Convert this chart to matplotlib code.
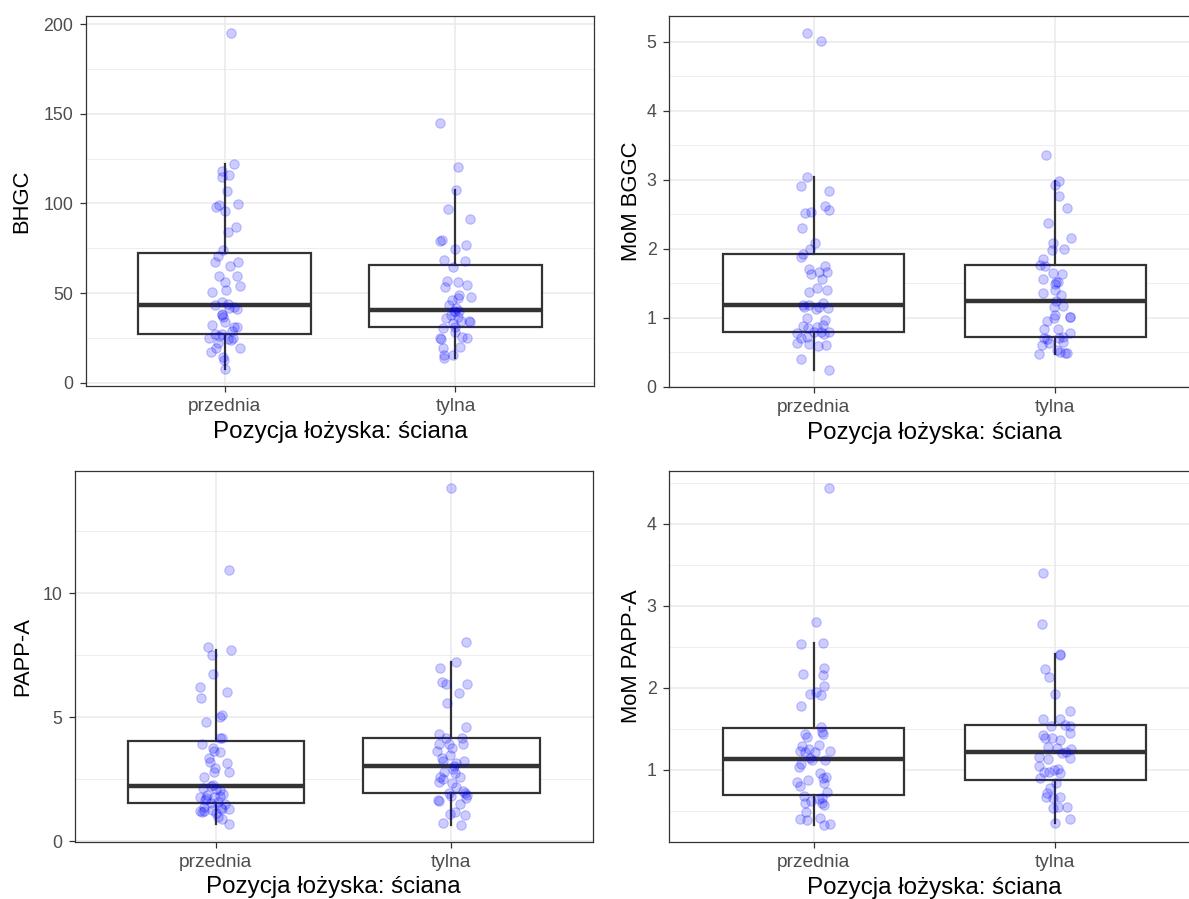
import matplotlib
matplotlib.use('Agg')
import matplotlib.pyplot as plt
import matplotlib.transforms as mtransforms
import numpy as np
from matplotlib.ticker import FixedLocator

plt.rcParams['font.family'] = ['Liberation Sans', 'DejaVu Sans']

categories = ['przednia', 'tylna']
x_title = 'Pozycja łożyska: ściana'

# ---------------- BHGC ----------------
bhgc_przednia = [195.2, 121.7, 118, 114.5, 115.8, 106.9, 97.8, 99, 95.9, 99.6, 87, 84.2,
                 74, 70.8, 67.3, 65.2, 67.3, 59.7, 56, 59.3, 53.9, 51.5, 50.7, 44.8, 43.3,
                 43.7, 42, 41.1, 37.7, 36.6, 34, 32.2, 31.2, 31.2, 28.8, 27, 26.2, 24.7,
                 24.3, 25.1, 19.5, 17.3, 19.1, 14.5, 12.6, 7.6, 22, 24, 27.3, 38.5, 41.5]
bhgc_przednia_jit = [0.026, 0.04, -0.01, -0.013, 0.019, 0.012, -0.039, -0.022, 0.0, 0.06, 0.05, 0.016,
                     -0.006, -0.029, -0.042, 0.023, 0.06, -0.022, 0.0, 0.055, 0.068, 0.007, -0.056, -0.013, -0.042,
                     0.016, 0.04, 0.052, -0.013, -0.007, 0.004, -0.056, 0.04, 0.055, 0.033, -0.042, -0.025, -0.067,
                     0.016, 0.036, -0.036, -0.057, 0.065, -0.007, -0.003, 0.001, -0.03, 0.03, -0.01, -0.01, 0.02]
bhgc_tylna = [145, 120.4, 107.4, 96.8, 91.1, 79, 79.6, 76.8, 74.3, 68.4, 67.8, 64.7, 56.9, 56.3,
              53.5, 54.5, 46.1, 48.9, 47.4, 48, 43.3, 41.4, 39.6, 35.9, 33.1, 31, 34.4, 34.4, 33.6,
              30.3, 25.1, 24.3, 28.4, 25.7, 25.1, 19.1, 20.1, 15.4, 13.6, 15.4, 36.5, 38, 40, 39.8]
bhgc_tylna_jit = [-0.067, 0.01, 0.003, -0.033, 0.065, -0.067, -0.06, 0.046, -0.004, -0.048, 0.042, -0.012,
                  -0.038, 0.01, -0.045, 0.05, -0.016, 0.014, 0.01, 0.068, -0.026, 0.003, 0.0, -0.04, -0.012,
                  -0.003, 0.025, 0.06, 0.065, -0.052, -0.067, -0.064, 0.0, 0.029, 0.05, -0.055, 0.02, -0.048,
                  -0.049, -0.012, 0.012, -0.02, 0.015, -0.008]

# ---------------- MoM BGGC ----------------
mom_bggc_przednia = [5.135, 5.01, 3.034, 2.91, 2.83, 2.62, 2.56, 2.52, 2.54, 2.30, 2.09, 2.00, 1.93,
                     1.88, 1.705, 1.63, 1.75, 1.66, 1.66, 1.555, 1.435, 1.38, 1.40, 1.19, 1.15, 1.16,
                     1.22, 1.145, 0.966, 0.884, 0.845, 0.87, 0.894, 0.773, 0.71, 0.725, 0.79, 0.797,
                     0.758, 0.797, 0.628, 0.613, 0.589, 0.604, 0.396, 0.235, 1.18, 1.12, 1.0]
mom_bggc_przednia_jit = [-0.03, 0.028, -0.028, -0.055, 0.064, 0.048, 0.062, -0.035, -0.011, -0.047, 0.004,
                         -0.017, -0.046, -0.055, -0.021, -0.011, 0.046, 0.021, 0.053, 0.035, 0.014, -0.021,
                         0.055, -0.044, -0.042, 0.021, 0.039, 0.058, 0.048, -0.044, -0.025, 0.014, 0.039,
                         -0.069, -0.055, -0.028, 0.0, 0.028, 0.042, 0.062, -0.069, -0.021, 0.017, 0.05,
                         -0.055, 0.062, -0.02, 0.01, -0.03]
mom_bggc_tylna = [3.36, 2.985, 2.93, 2.77, 2.594, 2.38, 2.16, 2.08, 1.98, 1.99, 1.845, 1.77, 1.754,
                  1.652, 1.638, 1.556, 1.52, 1.49, 1.52, 1.40, 1.353, 1.33, 1.24, 1.17, 1.15, 1.04,
                  1.01, 1.005, 0.95, 0.83, 0.83, 0.773, 0.725, 0.71, 0.686, 0.71, 0.604, 0.628, 0.643,
                  0.469, 0.531, 0.50, 0.483, 0.483, 1.0]
mom_bggc_tylna_jit = [-0.037, 0.014, 0.001, 0.017, 0.047, -0.03, 0.064, -0.01, -0.012, 0.035, -0.051,
                      -0.061, -0.044, -0.01, 0.029, -0.05, 0.004, 0.0, 0.011, 0.001, -0.052, 0.025, 0.004,
                      0.032, -0.003, 0.0, 0.06, 0.062, -0.033, -0.047, 0.011, 0.062, 0.032, -0.047, -0.033,
                      0.014, -0.055, -0.024, 0.032, -0.065, 0.007, 0.022, 0.039, 0.05, -0.005]

# ---------------- PAPP-A ----------------
pappa_przednia = [10.93, 7.84, 7.51, 7.70, 6.75, 6.24, 6.03, 5.78, 5.09, 5.0, 4.83, 4.18, 4.15, 3.92,
                  3.75, 3.64, 3.59, 3.35, 3.21, 2.97, 3.15, 2.81, 2.61, 2.81, 2.27, 2.14, 2.10, 2.07,
                  1.80, 1.87, 1.80, 1.84, 1.67, 1.22, 1.20, 1.22, 1.26, 1.13, 1.29, 1.29, 0.99, 0.89,
                  0.70, 2.25, 1.9, 1.75, 1.6, 1.55, 1.52, 1.4, 1.35]
pappa_przednia_jit = [0.056, -0.032, -0.017, 0.064, -0.013, -0.066, 0.049, -0.062, 0.028, 0.016, -0.044,
                      0.018, 0.024, -0.058, -0.014, -0.006, 0.016, -0.031, -0.027, -0.003, 0.049, 0.054,
                      -0.052, -0.006, -0.013, -0.055, 0.001, 0.018, -0.066, -0.038, -0.01, 0.016, -0.048,
                      -0.066, -0.059, -0.049, -0.017, 0.0, 0.025, 0.054, 0.007, 0.025, 0.054, -0.02, 0.03,
                      -0.04, 0.01, -0.02, 0.04, -0.05, 0.02]
pappa_tylna = [14.26, 8.02, 7.25, 7.0, 6.41, 6.33, 6.34, 5.99, 5.59, 4.62, 4.31, 4.16, 4.15, 3.91, 3.91,
               3.91, 3.78, 3.64, 3.35, 3.24, 3.24, 3.48, 3.15, 2.92, 2.74, 2.61, 2.58, 2.51, 2.41, 2.34,
               2.03, 1.96, 1.87, 1.83, 1.73, 1.67, 1.64, 1.49, 1.20, 1.06, 1.09, 0.75, 0.66, 3.05, 2.8,
               2.2, 1.95]
pappa_tylna_jit = [0.0, 0.064, 0.018, -0.047, -0.04, -0.021, 0.066, 0.031, -0.018, 0.064, -0.052, -0.024,
                   0.047, 0.049, -0.052, -0.01, 0.004, -0.061, -0.038, -0.035, 0.052, -0.007, 0.021, 0.007,
                   0.014, 0.035, -0.049, -0.035, -0.052, 0.004, 0.049, 0.056, 0.066, 0.0, 0.061, -0.056,
                   -0.054, 0.035, 0.014, 0.059, -0.004, -0.035, 0.042, 0.01, -0.03, 0.02, -0.01]

# ---------------- MoM PAPP-A ----------------
mom_pappa_przednia = [4.443, 2.80, 2.54, 2.545, 2.168, 2.237, 2.156, 2.02, 1.924, 1.952, 1.91, 1.78,
                      1.517, 1.464, 1.43, 1.44, 1.293, 1.228, 1.22, 1.25, 1.21, 1.228, 1.138, 1.118,
                      1.037, 1.065, 0.955, 0.915, 0.894, 0.874, 0.845, 0.805, 0.833, 0.723, 0.658, 0.589,
                      0.569, 0.597, 0.487, 0.398, 0.385, 0.406, 0.324, 0.337, 1.40, 1.30, 1.12, 0.68,
                      0.64, 0.62]
mom_pappa_przednia_jit = [0.062, 0.007, -0.055, 0.039, -0.046, 0.042, 0.039, 0.044, -0.017, 0.011, 0.028,
                          -0.055, 0.028, 0.035, 0.037, -0.036, -0.048, -0.058, -0.037, -0.021, 0.004, 0.066,
                          -0.017, -0.007, -0.062, -0.053, 0.024, 0.051, 0.039, -0.024, -0.069, -0.058, 0.042,
                          0.053, 0.035, 0.032, 0.042, -0.035, -0.033, -0.058, -0.028, 0.025, 0.044, 0.066,
                          -0.03, 0.02, 0.045, -0.04, 0.02, -0.01]
mom_pappa_tylna = [3.397, 2.78, 2.41, 2.40, 2.225, 2.136, 1.928, 1.72, 1.619, 1.615, 1.55, 1.537, 1.53,
                   1.444, 1.423, 1.383, 1.383, 1.362, 1.28, 1.269, 1.22, 1.252, 1.15, 1.13, 1.138, 1.045,
                   0.976, 0.967, 0.996, 1.008, 0.955, 0.894, 0.833, 0.719, 0.662, 0.65, 0.662, 0.528,
                   0.54, 0.345, 0.394, 1.20, 0.78, 0.55]
mom_pappa_tylna_jit = [-0.051, -0.055, 0.018, 0.022, -0.044, -0.026, 0.001, 0.062, -0.051, 0.019, 0.039,
                       0.062, -0.019, 0.062, -0.051, -0.044, -0.012, 0.018, -0.03, 0.008, 0.046, 0.066,
                       -0.069, -0.028, 0.06, -0.065, -0.047, -0.024, -0.003, 0.011, 0.019, -0.062, 0.004,
                       -0.033, -0.037, -0.01, 0.018, -0.01, 0.048, 0.0, 0.062, 0.03, -0.02, 0.01]

W, H = 1189, 899
fig = plt.figure(figsize=(W / 100, H / 100), dpi=100)
fig.patch.set_facecolor('white')

DARK = '#333333'
GRID = '#EBEBEB'


def panel(rect, groups, jits, ylabel, majors, minors, ylabel_x):
    ax = fig.add_axes(rect)
    ax.set_axisbelow(True)
    ax.boxplot(groups, positions=[1, 2], widths=0.75, showfliers=False, showcaps=False,
               patch_artist=True, whis=1.5,
               boxprops=dict(facecolor='white', edgecolor=DARK, linewidth=1.6),
               whiskerprops=dict(color=DARK, linewidth=1.6),
               medianprops=dict(color=DARK, linewidth=3.2, solid_capstyle='butt'),
               zorder=2)
    for i, (vals, dx) in enumerate(zip(groups, jits)):
        ax.scatter(np.asarray(dx) + i + 1, vals, s=46, facecolor=(0, 0, 1, 0.2),
                   edgecolor=(0, 0, 1, 0.22), linewidths=0.8, zorder=3)
    allv = np.concatenate([np.asarray(g, float) for g in groups])
    lo, hi = allv.min(), allv.max()
    pad = 0.05 * (hi - lo)
    ax.set_ylim(lo - pad, hi + pad)
    ax.set_xlim(0.4, 2.6)
    ax.set_xticks([1, 2])
    ax.set_xticklabels(categories)
    ax.yaxis.set_major_locator(FixedLocator(majors))
    ax.set_yticklabels([f'{m:g}' for m in majors])
    ax.yaxis.set_minor_locator(FixedLocator(minors))
    ax.grid(True, which='major', axis='both', color=GRID, linewidth=1.2)
    ax.grid(True, which='minor', axis='y', color=GRID, linewidth=0.6)
    ax.tick_params(axis='both', which='major', length=4.2, width=0.9, color=DARK,
                   labelcolor='#4D4D4D', pad=4.5)
    ax.tick_params(axis='x', which='major', labelsize=13.8)
    ax.tick_params(axis='y', which='major', labelsize=12.8, pad=4.8)
    ax.tick_params(axis='both', which='minor', length=0)
    for s in ax.spines.values():
        s.set_color(DARK)
        s.set_linewidth(0.9)
    ax.set_ylabel(ylabel, fontsize=15.8, color='black')
    trans = mtransforms.blended_transform_factory(fig.transFigure, ax.transAxes)
    ax.yaxis.set_label_coords(ylabel_x / W, 0.5, transform=trans)
    ax.set_xlabel(x_title, fontsize=17.4, color='black', labelpad=4.0)
    return ax


panel([86 / W, 1 - 385.9 / H, 508 / W, 370.1 / H],
      [bhgc_przednia, bhgc_tylna], [bhgc_przednia_jit, bhgc_tylna_jit],
      'BHGC', [0, 50, 100, 150, 200], [25, 75, 125, 175], 32)
panel([669 / W, 1 - 387.4 / H, 531 / W, 371.8 / H],
      [mom_bggc_przednia, mom_bggc_tylna], [mom_bggc_przednia_jit, mom_bggc_tylna_jit],
      'MoM BGGC', [0, 1, 2, 3, 4, 5], [0.5, 1.5, 2.5, 3.5, 4.5], 642)
panel([74.6 / W, 1 - 841.8 / H, 518 / W, 371 / H],
      [pappa_przednia, pappa_tylna], [pappa_przednia_jit, pappa_tylna_jit],
      'PAPP-A', [0, 5, 10], [2.5, 7.5, 12.5], 33)
panel([669 / W, 1 - 841.9 / H, 531 / W, 371.1 / H],
      [mom_pappa_przednia, mom_pappa_tylna], [mom_pappa_przednia_jit, mom_pappa_tylna_jit],
      'MoM PAPP-A', [1, 2, 3, 4], [0.5, 1.5, 2.5, 3.5, 4.5], 642)

fig.savefig('out.png', dpi=100, facecolor='white')
